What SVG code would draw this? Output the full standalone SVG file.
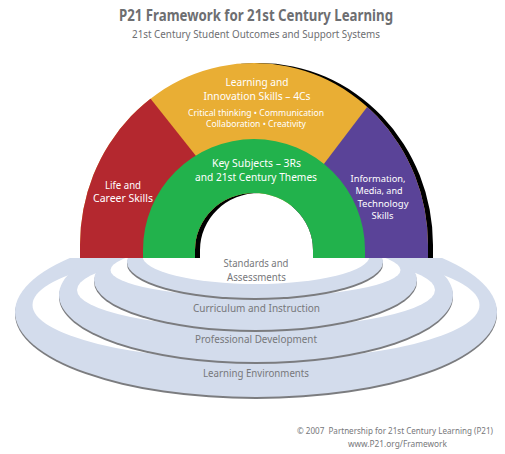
<svg xmlns="http://www.w3.org/2000/svg" width="505" height="454" viewBox="0 0 505 454">
  <style>
    text { font-family: "Noto Sans", "Open Sans", "Liberation Sans", sans-serif; text-anchor: middle; }
    .title { font-size: 15.5px; font-weight: bold; fill: #6d6e71; }
    .sub { font-size: 11px; fill: #6d6e71; }
    .arch-label { font-size: 10.5px; fill: #ffffff; }
    .arch-narrow { font-size: 9.8px; fill: #ffffff; }
    .arch-small { font-size: 9px; fill: #ffffff; }
    .ring-label { font-size: 10px; fill: #77787b; }
    .credit { font-size: 8.3px; fill: #77787b; }
    .ring { fill: #d3dcec; }
    .ring-edge { fill: #7b7c7f; }
    .ring-gap { fill: #ffffff; }
  </style>
  <defs>
    <!-- outer rainbow band with the doorway cut out -->
    <path id="archShape" d="M80,258 L80,245 A174,182 0 0 1 428,245 L428,258 Z M195,258 L195,250 A59,57 0 0 1 313,250 L313,258 Z"/>
    <clipPath id="archClip">
      <use href="#archShape" clip-rule="evenodd"/>
    </clipPath>
    <!-- support-system rings only show in front of the arch base -->
    <clipPath id="floorClip">
      <rect x="0" y="258" width="505" height="196"/>
    </clipPath>
  </defs>

  <rect width="505" height="454" fill="#ffffff"/>

  <g id="heading">
    <text class="title" x="256" y="21" textLength="274" lengthAdjust="spacingAndGlyphs">P21 Framework for 21st Century Learning</text>
    <text class="sub" x="256" y="37.5" textLength="248" lengthAdjust="spacingAndGlyphs">21st Century Student Outcomes and Support Systems</text>
  </g>

  <!-- support systems: concentric rings, drawn outermost first -->
  <g id="rings" clip-path="url(#floorClip)">
    <g id="learning-environments">
      <ellipse class="ring-edge" cx="256" cy="314" rx="241" ry="85"/>
      <ellipse class="ring" cx="256" cy="312" rx="241" ry="85"/>
      <ellipse class="ring-gap" cx="256" cy="305" rx="223.5" ry="55"/>
    </g>
    <g id="professional-development">
      <ellipse class="ring-edge" cx="256" cy="297" rx="197" ry="67"/>
      <ellipse class="ring" cx="256" cy="295" rx="197" ry="67"/>
      <ellipse class="ring-gap" cx="256" cy="290" rx="179" ry="38"/>
    </g>
    <g id="curriculum-instruction">
      <ellipse class="ring-edge" cx="255.5" cy="282" rx="161.5" ry="50"/>
      <ellipse class="ring" cx="255.5" cy="280" rx="161.5" ry="50"/>
      <ellipse class="ring-gap" cx="255.5" cy="270" rx="145" ry="27"/>
    </g>
    <g id="standards-assessments">
      <ellipse class="ring-edge" cx="255" cy="264" rx="128" ry="36"/>
      <ellipse class="ring" cx="255" cy="262" rx="128" ry="36"/>
      <ellipse class="ring-gap" cx="256" cy="256" rx="113.5" ry="28"/>
    </g>
  </g>

  <g id="ring-labels">
    <text class="ring-label" x="256" y="267" textLength="65" lengthAdjust="spacingAndGlyphs">Standards and</text>
    <text class="ring-label" x="256.5" y="281" textLength="59" lengthAdjust="spacingAndGlyphs">Assessments</text>
    <text class="ring-label" x="256.5" y="312" textLength="127" lengthAdjust="spacingAndGlyphs">Curriculum and Instruction</text>
    <text class="ring-label" x="256" y="343" textLength="122" lengthAdjust="spacingAndGlyphs">Professional Development</text>
    <text class="ring-label" x="256" y="377" textLength="106" lengthAdjust="spacingAndGlyphs">Learning Environments</text>
  </g>

  <!-- student outcomes: the rainbow arch -->
  <g id="arch">
    <use id="arch-shadow" href="#archShape" fill="#000000" fill-rule="evenodd" transform="translate(5,0)"/>
    <g id="learning-innovation">
      <use href="#archShape" fill="#e9ae34" fill-rule="evenodd"/>
      <text class="arch-label" x="257" y="86" textLength="63" lengthAdjust="spacingAndGlyphs">Learning and</text>
      <text class="arch-label" x="257" y="100" textLength="107" lengthAdjust="spacingAndGlyphs">Innovation Skills – 4Cs</text>
      <text class="arch-small" x="256" y="115.5" textLength="136" lengthAdjust="spacingAndGlyphs">Critical thinking • Communication</text>
      <text class="arch-small" x="256" y="127" textLength="100" lengthAdjust="spacingAndGlyphs">Collaboration • Creativity</text>
    </g>
    <g id="life-career">
      <g clip-path="url(#archClip)">
        <polygon points="0,40 104,40 277,258 0,258" fill="#b4282f"/>
      </g>
      <text class="arch-label" x="123" y="188.5" textLength="36" lengthAdjust="spacingAndGlyphs">Life and</text>
      <text class="arch-label" x="123" y="202" textLength="60" lengthAdjust="spacingAndGlyphs">Career Skills</text>
    </g>
    <g id="info-media-tech">
      <g clip-path="url(#archClip)">
        <polygon points="418,40 505,40 505,258 252.5,258" fill="#5a4398"/>
      </g>
      <text class="arch-narrow" x="378" y="181.5" textLength="55" lengthAdjust="spacingAndGlyphs">Information,</text>
      <text class="arch-narrow" x="379" y="194" textLength="47" lengthAdjust="spacingAndGlyphs">Media, and</text>
      <text class="arch-narrow" x="383" y="206.5" textLength="51" lengthAdjust="spacingAndGlyphs">Technology</text>
      <text class="arch-narrow" x="382.5" y="219" textLength="22" lengthAdjust="spacingAndGlyphs">Skills</text>
    </g>
    <g id="key-subjects">
      <path d="M143,258 L143,250 A111,111 0 0 1 365,250 L365,258 Z M195,258 L195,250 A59,57 0 0 1 313,250 L313,258 Z" fill="#22b24c" fill-rule="evenodd"/>
      <text class="arch-label" x="256.5" y="167" textLength="89" lengthAdjust="spacingAndGlyphs">Key Subjects – 3Rs</text>
      <text class="arch-label" x="256" y="181" textLength="122" lengthAdjust="spacingAndGlyphs">and 21st Century Themes</text>
    </g>
  </g>

  <g id="connectors"/>

  <g id="credit">
    <text class="credit" x="395" y="434" textLength="196" lengthAdjust="spacingAndGlyphs" xml:space="preserve">© 2007  Partnership for 21st Century Learning (P21)</text>
    <text class="credit" x="397.5" y="446.5" textLength="99" lengthAdjust="spacingAndGlyphs">www.P21.org/Framework</text>
  </g>
</svg>
